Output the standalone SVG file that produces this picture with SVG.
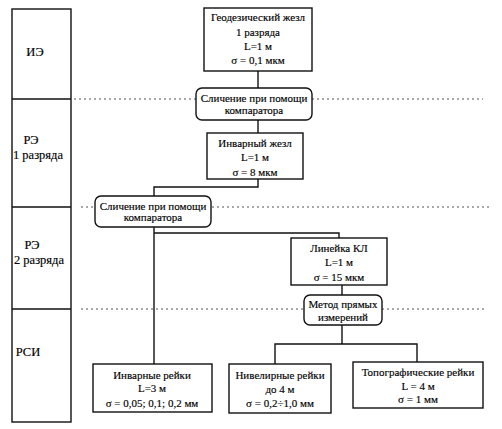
<svg xmlns="http://www.w3.org/2000/svg" width="502" height="429" viewBox="0 0 502 429">
<style>
text{font-family:"Liberation Serif","Times New Roman",serif;font-size:11px;fill:#000;text-anchor:middle;stroke:#000;stroke-width:0.15}
.lbl{font-size:12.5px}
.box{fill:#fff;stroke:#111;stroke-width:1.4}
.ln{fill:none;stroke:#111;stroke-width:1.4}
.dot{fill:none;stroke:#555;stroke-width:1;stroke-dasharray:2 3}
</style>
<rect width="502" height="429" fill="#fff"/>
<g id="levels">
<rect class="box" x="12" y="9" width="59" height="413"/>
<line class="ln" x1="12" y1="99" x2="71" y2="99"/>
<line class="ln" x1="12" y1="207" x2="71" y2="207"/>
<line class="ln" x1="12" y1="309" x2="71" y2="309"/>
<text class="lbl" x="35" y="56">ИЭ</text>
<text class="lbl" x="31" y="144">РЭ</text>
<text class="lbl" x="38" y="159">1 разряда</text>
<text class="lbl" x="32" y="249">РЭ</text>
<text class="lbl" x="39" y="264">2 разряда</text>
<text class="lbl" x="28" y="356">РСИ</text>
</g>
<g id="dividers">
<line class="dot" x1="74" y1="99" x2="197" y2="99"/>
<line class="dot" x1="312" y1="99" x2="483" y2="99"/>
<line class="dot" x1="81" y1="207" x2="95" y2="207"/>
<line class="dot" x1="212" y1="207" x2="492" y2="207"/>
<line class="dot" x1="81" y1="309" x2="304" y2="309"/>
<line class="dot" x1="382" y1="309" x2="485" y2="309"/>
</g>
<g id="connectors">
<line class="ln" x1="258" y1="71" x2="258" y2="88"/>
<line class="ln" x1="258" y1="120" x2="258" y2="133"/>
<polyline class="ln" points="258,179 258,187 154,187 154,196"/>
<line class="ln" x1="154" y1="227" x2="154" y2="364"/>
<polyline class="ln" points="154,233 339,233 339,238"/>
<line class="ln" x1="342" y1="285" x2="342" y2="295"/>
<polyline class="ln" points="342,325 342,344"/>
<polyline class="ln" points="275,364 275,344 417,344 417,362"/>
</g>
<g id="n1">
<rect class="box" x="204" y="8" width="108" height="63"/>
<text x="258" y="21">Геодезический жезл</text>
<text x="258" y="36">1 разряда</text>
<text x="258" y="50">L=1 м</text>
<text x="258" y="64">σ = 0,1 мкм</text>
</g>
<g id="c1">
<rect class="box" x="196" y="88" width="116" height="32" rx="6"/>
<text x="254" y="102">Сличение при помощи</text>
<text x="254" y="114">компаратора</text>
</g>
<g id="n2">
<rect class="box" x="207" y="133" width="96" height="46"/>
<text x="255" y="147">Инварный жезл</text>
<text x="255" y="161">L=1 м</text>
<text x="255" y="176">σ = 8 мкм</text>
</g>
<g id="c2">
<rect class="box" x="95" y="196" width="116" height="31" rx="6"/>
<text x="153" y="210">Сличение при помощи</text>
<text x="153" y="221">компаратора</text>
</g>
<g id="n3">
<rect class="box" x="291" y="238" width="96" height="47"/>
<text x="339" y="252">Линейка КЛ</text>
<text x="339" y="266">L=1 м</text>
<text x="339" y="281">σ = 15 мкм</text>
</g>
<g id="c3">
<rect class="box" x="304" y="295" width="78" height="30" rx="6"/>
<text x="343" y="308">Метод прямых</text>
<text x="343" y="321">измерений</text>
</g>
<g id="n4">
<rect class="box" x="93" y="364" width="119" height="48"/>
<text x="152" y="379">Инварные рейки</text>
<text x="152" y="392">L=3 м</text>
<text x="152" y="407">σ = 0,05; 0,1; 0,2 мм</text>
</g>
<g id="n5">
<rect class="box" x="229" y="364" width="102" height="49"/>
<text x="280" y="379">Нивелирные рейки</text>
<text x="280" y="393">до 4 м</text>
<text x="280" y="407">σ = 0,2÷1,0 мм</text>
</g>
<g id="n6">
<rect class="box" x="353" y="362" width="130" height="46"/>
<text x="418" y="376">Топографические рейки</text>
<text x="418" y="390">L = 4 м</text>
<text x="418" y="403">σ = 1 мм</text>
</g>
</svg>
